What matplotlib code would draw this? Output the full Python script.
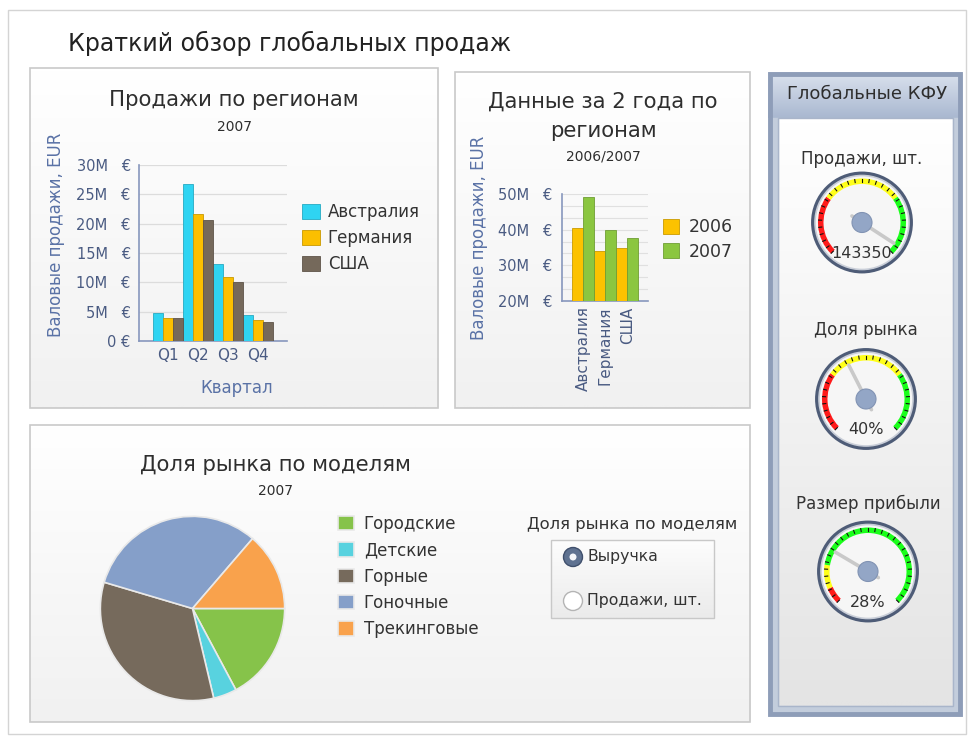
import numpy as np
import matplotlib
matplotlib.use('Agg')
import matplotlib.pyplot as plt
import matplotlib.colors as mcolors
from matplotlib.patches import Rectangle, Circle, Wedge

plt.rcParams['font.family'] = ['DejaVu Sans']

W, H = 972, 738

# --- data ---
quarters = ['Q1', 'Q2', 'Q3', 'Q4']
regions = ['Австралия', 'Германия', 'США']
region_colors = ['#2fd4f2', '#fbbf00', '#75695b']
sales_australia = [4.8, 26.8, 13.1, 4.4]
sales_germany = [4.0, 21.7, 10.9, 3.5]
sales_usa = [3.9, 20.6, 10.1, 3.2]

years = ['2006', '2007']
year_colors = ['#fcc200', '#8bc640']
sales_2006 = [40.6, 33.9, 35.0]
sales_2007 = [49.1, 40.0, 37.8]

models = ['Городские', 'Детские', 'Горные', 'Гоночные', 'Трекинговые']
model_share = [17.2, 4.1, 33.3, 31.7, 13.7]
model_colors = ['#86c34a', '#58d2df', '#766a5c', '#859fc9', '#f9a24c']

kpi_names = ['Продажи, шт.', 'Доля рынка', 'Размер прибыли']
kpi_values = [143350, 40, 28]
kpi_texts = ['143350', '40%', '28%']
kpi_max = [150000, 100, 100]
kpi_red_end = [45000, 30, 8]
kpi_yellow_end = [105000, 70, 20]

TITLE = '#2e2e2e'
TICK = '#4a5b82'
AXLAB = '#5a72a6'
SPINE = '#8797bd'


def fig_rect(x0, y0, x1, y1):
    return [x0 / W, 1 - y1 / H, (x1 - x0) / W, (y1 - y0) / H]


def gradient(ax, x0, y0, x1, y1, top, bottom, z=0):
    c0 = np.array(mcolors.to_rgb(top))
    c1 = np.array(mcolors.to_rgb(bottom))
    t = np.linspace(0, 1, 64)[:, None, None]
    img = c0 + (c1 - c0) * t
    ax.imshow(img, extent=(x0, x1, y1, y0), aspect='auto', zorder=z, interpolation='bilinear')


def panel(ax, x0, y0, x1, y1, edge='#c9c9c9', lw=1.2, top='#ffffff', bottom='#f1f1f1'):
    gradient(ax, x0, y0, x1, y1, top, bottom, z=1)
    ax.add_patch(Rectangle((x0, y0), x1 - x0, y1 - y0, fill=False, ec=edge, lw=lw, zorder=2))


fig = plt.figure(figsize=(W / 100, H / 100), dpi=100)
bg = fig.add_axes([0, 0, 1, 1])
bg.axis('off')

bg.add_patch(Rectangle((8, 10), 958, 724, fill=False, ec='#d4d4d4', lw=1, zorder=1))
bg.text(68, 43, 'Краткий обзор глобальных продаж', fontsize=17, color='#222222', va='center', ha='left')

panel(bg, 30, 68, 438, 408)
panel(bg, 455, 72, 750, 408)
panel(bg, 30, 425, 750, 722)

# --- KPI side panel ---
gradient(bg, 768, 72, 962, 118, '#dbe2ee', '#a9b8d0', z=1)
gradient(bg, 778, 118, 953, 706, '#ffffff', '#e4e4e4', z=1)
bg.add_patch(Rectangle((778, 118), 175, 588, fill=False, ec='#a9b5ca', lw=1, zorder=2))
bg.add_patch(Rectangle((770, 74), 190, 640, fill=False, ec='#8e9db8', lw=3.5, zorder=2))
bg.add_patch(Rectangle((770, 118), 8, 596, color='#c3cddc', zorder=1.5))
bg.add_patch(Rectangle((953, 118), 7, 596, color='#c3cddc', zorder=1.5))
bg.add_patch(Rectangle((770, 706), 190, 8, color='#c3cddc', zorder=1.5))
bg.text(867, 94, 'Глобальные КФУ', fontsize=13, color='#2e2e2e', ha='center', va='center', zorder=3)

# --- chart 1: sales by region ---
bg.text(234, 100, 'Продажи по регионам', fontsize=15.3, color=TITLE, ha='center', va='center')
bg.text(234, 127, '2007', fontsize=10, color=TITLE, ha='center', va='center')

ax1 = fig.add_axes(fig_rect(139, 165, 287, 341))
ax1.set_facecolor('none')
x = np.arange(len(quarters))
w = 1 / 3
for i, vals in enumerate([sales_australia, sales_germany, sales_usa]):
    c = region_colors[i]
    ec = tuple(v * 0.8 for v in mcolors.to_rgb(c))
    ax1.bar(x + (i - 1) * w, vals, w, color=c, edgecolor=ec, linewidth=0.6,
            label=regions[i], zorder=3)
ax1.set_xlim(-0.97, 3.97)
ax1.set_ylim(0, 30)
ticks1 = list(range(0, 31, 5))
ax1.set_yticks(ticks1)
ax1.set_yticklabels(['0 €' if t == 0 else f'{t}M   €' for t in ticks1])
ax1.set_xticks(x)
ax1.set_xticklabels(quarters)
ax1.set_xlabel('Квартал', fontsize=12, color=AXLAB)
ax1.xaxis.set_label_coords((237 - 139) / 148, -(379 - 341) / 176)
ax1.set_ylabel('Валовые продажи, EUR', fontsize=12, color=AXLAB)
ax1.yaxis.set_label_coords((65 - 139) / 148, (341 - 235) / 176)
ax1.yaxis.grid(True, color='#dcdcdc', lw=0.9)
ax1.set_axisbelow(True)
ax1.tick_params(axis='y', length=0, pad=6, labelsize=10.5, labelcolor=TICK)
ax1.tick_params(axis='x', length=0, pad=5, labelsize=11, labelcolor=TICK)
for s in ['top', 'right']:
    ax1.spines[s].set_visible(False)
for s in ['left', 'bottom']:
    ax1.spines[s].set_color(SPINE)
    ax1.spines[s].set_linewidth(1.2)
ax1.legend(loc='upper left', bbox_to_anchor=(302 / W, 1 - 203 / H), bbox_transform=fig.transFigure,
           frameon=False, fontsize=12, handlelength=1.05, handleheight=1.05, handletextpad=0.5,
           labelspacing=0.48, borderpad=0, borderaxespad=0, labelcolor='#333333')

# --- chart 2: two years by region ---
bg.text(603, 102, 'Данные за 2 года по', fontsize=15.3, color=TITLE, ha='center', va='center')
bg.text(603, 131, 'регионам', fontsize=15.3, color=TITLE, ha='center', va='center')
bg.text(603, 156, '2006/2007', fontsize=10, color=TITLE, ha='center', va='center')

ax2 = fig.add_axes(fig_rect(562, 194, 648, 301))
ax2.set_facecolor('none')
x2 = np.arange(len(regions))
w2 = 0.5
for i, vals in enumerate([sales_2006, sales_2007]):
    c = year_colors[i]
    ec = tuple(v * 0.8 for v in mcolors.to_rgb(c))
    ax2.bar(x2 + (i - 0.5) * w2, vals, w2, color=c, edgecolor=ec, linewidth=0.6,
            label=years[i], zorder=3)
ax2.set_xlim(-0.97, 2.94)
ax2.set_ylim(20, 50)
ticks2 = [20, 30, 40, 50]
ax2.set_yticks(ticks2)
ax2.set_yticklabels([f'{t}M   €' for t in ticks2])
ax2.set_yticks(np.arange(20, 50, 10 / 3), minor=True)
ax2.set_xticks(x2)
ax2.set_xticklabels(regions, rotation=90)
ax2.set_ylabel('Валовые продажи, EUR', fontsize=12, color=AXLAB)
ax2.yaxis.set_label_coords((488 - 562) / 86, (301 - 238) / 107)
ax2.yaxis.grid(True, which='both', color='#e0e0e0', lw=0.8)
ax2.set_axisbelow(True)
ax2.tick_params(axis='y', which='both', length=0, pad=7, labelsize=10.5, labelcolor=TICK)
ax2.tick_params(axis='x', length=0, pad=4, labelsize=11, labelcolor=TICK)
for s in ['top', 'right']:
    ax2.spines[s].set_visible(False)
for s in ['left', 'bottom']:
    ax2.spines[s].set_color(SPINE)
    ax2.spines[s].set_linewidth(1.2)
ax2.legend(loc='upper left', bbox_to_anchor=(663 / W, 1 - 218 / H), bbox_transform=fig.transFigure,
           frameon=False, fontsize=12.5, handlelength=0.95, handleheight=0.95, handletextpad=0.55,
           labelspacing=0.38, borderpad=0, borderaxespad=0, labelcolor='#333333')

# --- chart 3: market share pie ---
bg.text(275, 465, 'Доля рынка по моделям', fontsize=15.3, color=TITLE, ha='center', va='center')
bg.text(275, 491, '2007', fontsize=10, color=TITLE, ha='center', va='center')

ax3 = fig.add_axes(fig_rect(98.5, 514.5, 286.5, 702.5))
wedges, _ = ax3.pie(model_share, colors=model_colors, startangle=0, counterclock=False,
                    wedgeprops=dict(edgecolor='#e9e9e9', linewidth=1.2))
ax3.set_xlim(-1.02, 1.02)
ax3.set_ylim(-1.02, 1.02)
ax3.legend(wedges, models, loc='upper left', bbox_to_anchor=(338 / W, 1 - 515 / H),
           bbox_transform=fig.transFigure, frameon=False, fontsize=12, handlelength=0.95,
           handleheight=0.95, handletextpad=0.6, labelspacing=0.5, borderpad=0, borderaxespad=0,
           labelcolor='#333333')

# radio selector
bg.text(632, 525, 'Доля рынка по моделям', fontsize=11.8, color='#333333', ha='center', va='center')
gradient(bg, 551, 540, 714, 618, '#fdfdfd', '#ebebeb', z=2)
bg.add_patch(Rectangle((551, 540), 163, 78, fill=False, ec='#c8c8c8', lw=1, zorder=3))
bg.add_patch(Circle((573, 557), 9.5, fc='#5f7291', ec='#3f4f6c', lw=1, zorder=4))
bg.add_patch(Circle((573, 557), 3.5, fc='#f4f6fa', ec='none', zorder=5))
bg.text(587, 557, 'Выручка', fontsize=11.3, color='#333333', va='center', zorder=5)
bg.add_patch(Circle((573, 601), 9.5, fc='#ffffff', ec='#b4b4b4', lw=1, zorder=4))
bg.text(587, 601, 'Продажи, шт.', fontsize=11.3, color='#333333', va='center', zorder=5)

# --- gauges ---
gauge_centers = [(862, 222.5), (866, 399), (868, 571.5)]
label_dy = [-64, -69, -68]
R = 49
A0, A1 = 225, -45


def val_angle(v, vmax):
    return A0 - (A0 - A1) * v / vmax


for k in range(3):
    cx, cy = gauge_centers[k]
    bg.text(cx, cy + label_dy[k], kpi_names[k], fontsize=12, color='#333333',
            ha='center', va='center', zorder=5)
    gax = fig.add_axes(fig_rect(cx - 56, cy - 56, cx + 56, cy + 56))
    gax.set_xlim(-56, 56)
    gax.set_ylim(-56, 56)
    gax.set_aspect('equal')
    gax.axis('off')
    gax.add_patch(Circle((0, 0), R, fc='#f6f6f6', ec='#4e5c77', lw=2.8, zorder=1))
    gax.add_patch(Circle((0, 0), R - 2, fc='none', ec='#c9ced8', lw=1.2, zorder=1))
    bands = [(0, kpi_red_end[k], '#ff1a1a'),
             (kpi_red_end[k], kpi_yellow_end[k], '#ffff1a'),
             (kpi_yellow_end[k], kpi_max[k], '#1aff1a')]
    for lo, hi, col in bands:
        gax.add_patch(Wedge((0, 0), 44, val_angle(hi, kpi_max[k]), val_angle(lo, kpi_max[k]),
                            width=5.5, fc=col, ec='none', zorder=2))
    for a in np.linspace(A0, A1, 29):
        r = np.radians(a)
        gax.plot([40.5 * np.cos(r), 43.5 * np.cos(r)], [40.5 * np.sin(r), 43.5 * np.sin(r)],
                 color='#111111', lw=0.8, zorder=3)
    ang = np.radians(val_angle(kpi_values[k], kpi_max[k]))
    gax.plot([-12 * np.cos(ang), 38 * np.cos(ang)], [-12 * np.sin(ang), 38 * np.sin(ang)],
             color='#c9c9c9', lw=2.6, solid_capstyle='round', zorder=4)
    gax.add_patch(Circle((0, 0), 10, fc='#93a6c6', ec='#8193b3', lw=0.8, zorder=5))
    gax.text(0, -31, kpi_texts[k], fontsize=11.5, color='#333333', ha='center', va='center', zorder=6)

bg.set_xlim(0, W)
bg.set_ylim(H, 0)

fig.savefig('out.png', dpi=100)
